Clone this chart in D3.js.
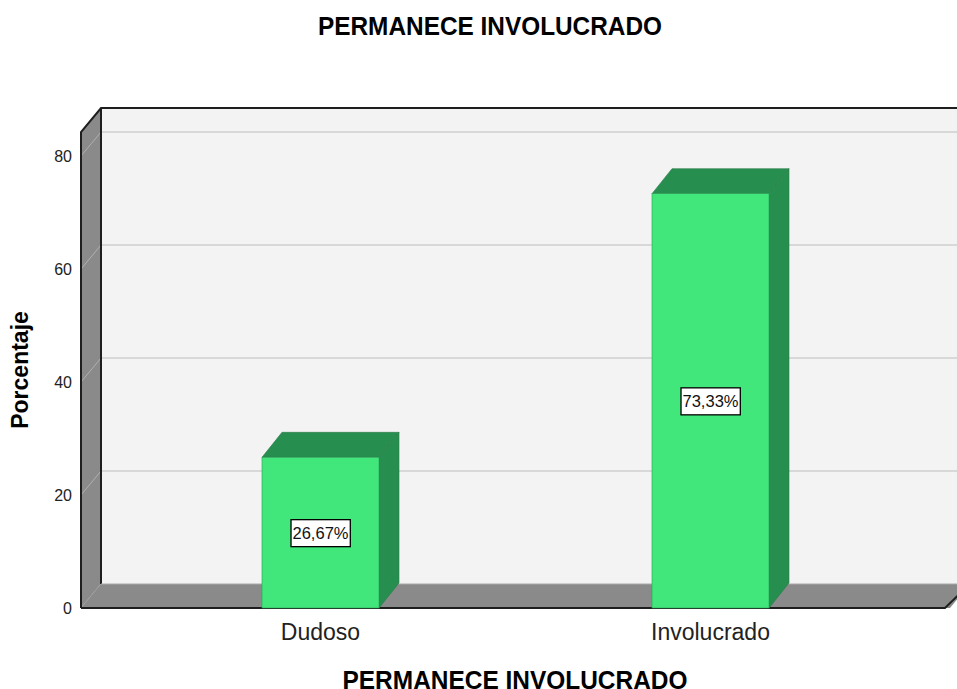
<!DOCTYPE html>
<html><head><meta charset="utf-8">
<script src="https://cdn.jsdelivr.net/npm/d3@7"></script>
<style>body{margin:0;background:#fff}svg{display:block;font-family:"Liberation Sans",Arial,sans-serif}</style>
</head><body>
<svg id="c" width="957" height="689"></svg>
<script>
const categories = ["Dudoso", "Involucrado"];
const percentages = [26.67, 73.33];
const valueLabels = ["26,67%", "73,33%"];
const yTicks = [0, 20, 40, 60, 80];
const title = "PERMANECE INVOLUCRADO";
const xTitle = "PERMANECE INVOLUCRADO";
const yTitle = "Porcentaje";

const svg = d3.select("#c");
const DX = 20, DY = -24;
const left = 81, right = 950, bottom = 608;
const y = d3.scaleLinear().domain([0, 84.25]).range([bottom, bottom - 84.25 * 5.65]);
const x = d3.scaleBand().domain(categories).range([125.5, 905.5]).paddingInner(0.7).paddingOuter(0.35);

const yTop = y.domain()[1];
// back wall
svg.append("rect").attr("x", left + DX).attr("y", y(yTop) + DY)
  .attr("width", right - left + 10).attr("height", y(0) - y(yTop))
  .attr("fill", "#f3f3f3");
// gridlines on back wall
svg.selectAll("line.grid").data(yTicks.filter(d => d > 0)).join("line")
  .attr("x1", left + DX).attr("x2", 970)
  .attr("y1", d => y(d) + DY).attr("y2", d => y(d) + DY)
  .attr("stroke", "#cfcfcf").attr("stroke-width", 1.5);
// left side wall
svg.append("path")
  .attr("d", `M${left},${y(yTop)} L${left + DX},${y(yTop) + DY} L${left + DX},${y(0) + DY} L${left},${y(0)} Z`)
  .attr("fill", "#8a8a8a");
// side wall grid diagonals
svg.selectAll("line.sg").data(yTicks).join("line")
  .attr("x1", left).attr("x2", left + DX)
  .attr("y1", d => y(d)).attr("y2", d => y(d) + DY)
  .attr("stroke", "#b0b0b0").attr("stroke-width", 1);
// floor
svg.append("path")
  .attr("d", `M${left},${y(0)} L${left + DX},${y(0) + DY} L${right + DX},${y(0) + DY} L${right},${y(0)} Z`)
  .attr("fill", "#8a8a8a");
// outlines
const dark = "#1e1e1e";
svg.append("path")
  .attr("d", `M${left},${y(0)} L${left},${y(yTop)} L${left + DX},${y(yTop) + DY} L970,${y(yTop) + DY}`)
  .attr("fill", "none").attr("stroke", dark).attr("stroke-width", 2);
svg.append("line").attr("x1", left + DX).attr("x2", left + DX)
  .attr("y1", y(yTop) + DY).attr("y2", y(0) + DY).attr("stroke", dark).attr("stroke-width", 2);
svg.append("path")
  .attr("d", `M${left},${y(0)} L${right - 5},${y(0)} L${right + DX},${y(0) + DY}`)
  .attr("fill", "none").attr("stroke", dark).attr("stroke-width", 2);
svg.append("line").attr("x1", left + DX).attr("x2", 970)
  .attr("y1", y(0) + DY).attr("y2", y(0) + DY).attr("stroke", "#a8a8a8").attr("stroke-width", 1);

// bars
const bars = svg.selectAll("g.bar").data(categories.map((c, i) => ({c, v: percentages[i], l: valueLabels[i]}))).join("g");
const BDY = -25;
bars.append("path")
  .attr("d", d => { const x0 = x(d.c), w = x.bandwidth(), t = y(d.v);
    return `M${x0},${t} L${x0 + DX},${t + BDY} L${x0 + w + DX},${t + BDY} L${x0 + w},${t} Z`; })
  .attr("fill", "#268f4f").attr("stroke", "#2a7a48").attr("stroke-width", 0.6);
bars.append("path")
  .attr("d", d => { const x0 = x(d.c) + x.bandwidth(), t = y(d.v);
    return `M${x0},${t} L${x0 + DX},${t + BDY} L${x0 + DX},${y(0) + BDY} L${x0},${y(0)} Z`; })
  .attr("fill", "#268f4f").attr("stroke", "#2a7a48").attr("stroke-width", 0.6);
bars.append("rect")
  .attr("x", d => x(d.c)).attr("y", d => y(d.v))
  .attr("width", x.bandwidth()).attr("height", d => y(0) - y(d.v))
  .attr("fill", "#41e77b").attr("stroke", "#2f9a58").attr("stroke-width", 0.6);
// value labels
bars.each(function(d) {
  const g = d3.select(this);
  const cx = x(d.c) + x.bandwidth() / 2, cy = y(d.v / 2);
  const t = g.append("text").attr("x", cx).attr("y", cy + 6).attr("text-anchor", "middle")
    .attr("font-size", 16.5).attr("fill", "#111").text(d.l);
  const bb = t.node().getBBox();
  g.insert("rect", "text").attr("x", bb.x - 1.5).attr("y", cy - 13)
    .attr("width", bb.width + 3).attr("height", 27)
    .attr("fill", "#fff").attr("stroke", "#000").attr("stroke-width", 1.3);
});

// y tick labels
svg.selectAll("text.yt").data(yTicks).join("text")
  .attr("x", 72).attr("y", d => y(d) + 6).attr("text-anchor", "end")
  .attr("font-size", 16).attr("fill", "#222").text(d => d);
// x category labels
svg.selectAll("text.xt").data(categories).join("text")
  .attr("x", d => x(d) + x.bandwidth() / 2).attr("y", 640).attr("text-anchor", "middle")
  .attr("font-size", 23).attr("fill", "#222").text(d => d);
// titles
svg.append("text").attr("x", 490).attr("y", 35).attr("text-anchor", "middle")
  .attr("font-size", 25).attr("font-weight", "bold")
  .attr("textLength", 344).attr("lengthAdjust", "spacingAndGlyphs").text(title);
svg.append("text").attr("x", 515).attr("y", 689).attr("text-anchor", "middle")
  .attr("font-size", 25).attr("font-weight", "bold")
  .attr("textLength", 345).attr("lengthAdjust", "spacingAndGlyphs").text(xTitle);
svg.append("text").attr("transform", "translate(28,370) rotate(-90)").attr("text-anchor", "middle")
  .attr("font-size", 23).attr("font-weight", "bold").text(yTitle);
</script>
</body></html>
